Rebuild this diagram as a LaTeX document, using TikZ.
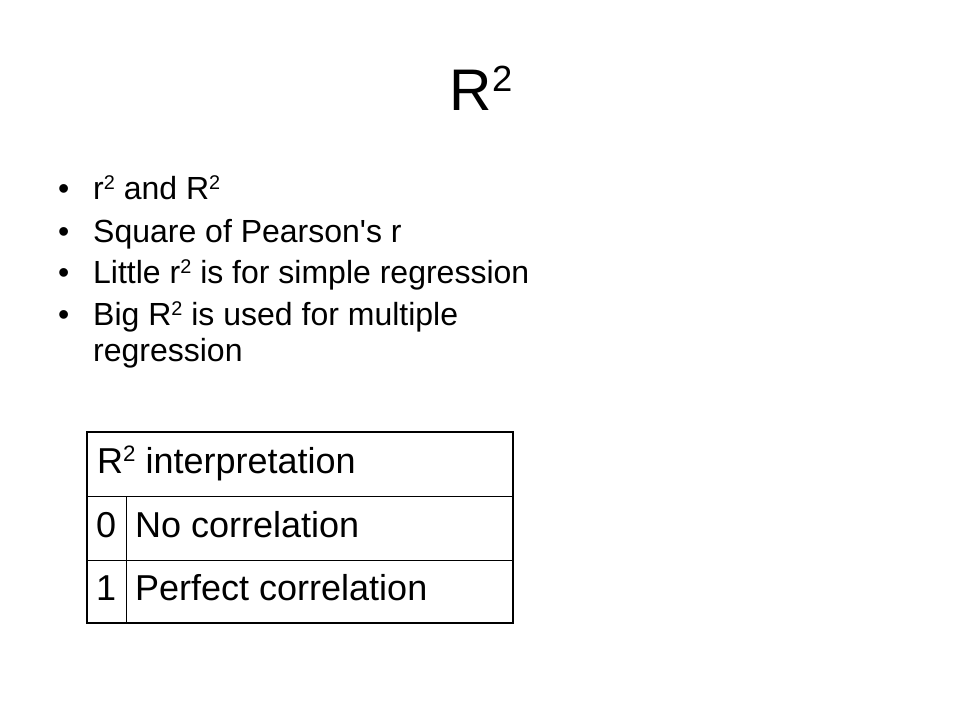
\documentclass[tikz,border=0pt]{standalone}
\usepackage{fontspec}
\setmainfont{Liberation Sans}[Ligatures=TeXOff]
\usepackage{graphicx}
\newcommand\supx[1]{\raisebox{0.31em}{\scalebox{0.62}{#1}}}
\begin{document}
\begin{tikzpicture}[x=1pt,y=-1pt,
  titletxt/.style={inner sep=0pt, anchor=base, font=\fontsize{58.7}{64}\selectfont},
  bodytxt/.style={inner sep=0pt, anchor=base west, font=\fontsize{32}{37}\selectfont},
  celltxt/.style={inner sep=0pt, anchor=base west, font=\fontsize{36}{42}\selectfont},
  outerline/.style={line width=2pt, black},
  innerline/.style={line width=1pt, black}]
\useasboundingbox[fill=white] (0,0) rectangle (960,720);
% title
\node[titletxt] (title) at (481,110) {R\supx{2}};
% bullets
\node[bodytxt] (b1) at (58,199) {•};
\node[bodytxt] (t1) at (93,199) {r\supx{2} and R\supx{2}};
\node[bodytxt] (b2) at (58,242) {•};
\node[bodytxt] (t2) at (93,242) {Square of Pearson's r};
\node[bodytxt] (b3) at (58,283) {•};
\node[bodytxt] (t3) at (93,283) {Little r\supx{2} is for simple regression};
\node[bodytxt] (b4) at (58,325) {•};
\node[bodytxt] (t4) at (93,325) {Big R\supx{2} is used for multiple};
\node[bodytxt] (t4b) at (93,361) {regression};
% table
\draw[innerline] (87,496) -- (513,496);
\draw[innerline] (87,560) -- (513,560);
\draw[innerline] (126,496) -- (126,623);
\draw[outerline] (87,432) rectangle (513,623);
\node[celltxt] (h) at (97,473) {R\supx{2} interpretation};
\node[celltxt] (c0) at (96,537) {0};
\node[celltxt] (d0) at (135,537) {No correlation};
\node[celltxt] (c1) at (96,600) {1};
\node[celltxt] (d1) at (135,600) {Perfect correlation};
\end{tikzpicture}
\end{document}
